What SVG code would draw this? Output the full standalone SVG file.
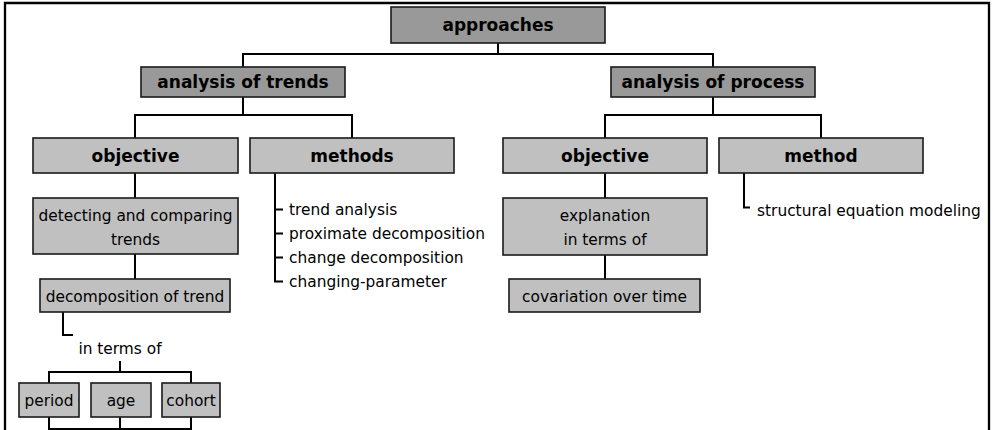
<svg xmlns="http://www.w3.org/2000/svg" width="993" height="430" viewBox="0 0 993 430">
<style>
  .dark { fill: #999999; stroke: #1a1a1a; stroke-width: 1.6; }
  .light { fill: #c0c0c0; stroke: #1a1a1a; stroke-width: 1.6; }
  .title { font-family: "DejaVu Sans", "Liberation Sans", sans-serif; font-size: 17px; font-weight: bold; fill: #000; text-anchor: middle; }
  .txt { font-family: "DejaVu Sans", "Liberation Sans", sans-serif; font-size: 15.4px; fill: #000; text-anchor: middle; }
  .lst { font-family: "DejaVu Sans", "Liberation Sans", sans-serif; font-size: 15.4px; fill: #000; text-anchor: start; }
  .conn { fill: none; stroke: #000; stroke-width: 2; }
</style>
<rect x="0" y="0" width="993" height="430" fill="#ffffff"/>
<path d="M5,434 V3 H989 V434" fill="none" stroke="#000" stroke-width="2.3"/>

<g id="connectors" class="conn">
  <path d="M498,43 V54"/>
  <path d="M243,67 V54 H713 V67"/>
  <path d="M243,97 V115"/>
  <path d="M135,138 V115 H352 V138"/>
  <path d="M713,97 V115"/>
  <path d="M605,138 V115 H821 V138"/>
  <path d="M135,173 V198"/>
  <path d="M135,254 V279"/>
  <path d="M63,312 V335 H73"/>
  <path d="M120,361 V372"/>
  <path d="M49,383 V372 H191 V383"/>
  <path d="M49,417 V429 H191 V417"/>
  <path d="M120,417 V429"/>
  <path d="M275,173 V281.5 H283"/>
  <path d="M275,209.5 H283"/>
  <path d="M275,233.5 H283"/>
  <path d="M275,257.5 H283"/>
  <path d="M605,173 V198"/>
  <path d="M605,255 V279"/>
  <path d="M744,173 V207.5 H750"/>
</g>

<g id="approaches">
  <rect class="dark" x="391" y="7" width="214" height="36"/>
  <text class="title" x="498" y="31">approaches</text>
</g>
<g id="analysis-trends">
  <rect class="dark" x="141" y="67" width="204" height="30"/>
  <text class="title" x="243" y="88">analysis of trends</text>
</g>
<g id="analysis-process">
  <rect class="dark" x="611" y="67" width="204" height="30"/>
  <text class="title" x="713" y="88">analysis of process</text>
</g>
<g id="objective-trends">
  <rect class="light" x="33" y="138" width="205" height="35"/>
  <text class="title" x="135.5" y="161.5">objective</text>
</g>
<g id="methods-trends">
  <rect class="light" x="250" y="138" width="204" height="35"/>
  <text class="title" x="352" y="161.5">methods</text>
</g>
<g id="objective-process">
  <rect class="light" x="503" y="138" width="204" height="35"/>
  <text class="title" x="605" y="161.5">objective</text>
</g>
<g id="method-process">
  <rect class="light" x="719" y="138" width="204" height="35"/>
  <text class="title" x="821" y="161.5">method</text>
</g>
<g id="detecting">
  <rect class="light" x="33" y="198" width="205" height="56"/>
  <text class="txt" x="135.5" y="221">detecting and comparing</text>
  <text class="txt" x="135.5" y="245">trends</text>
</g>
<g id="decomposition">
  <rect class="light" x="40" y="279" width="190" height="33"/>
  <text class="txt" x="135" y="302">decomposition of trend</text>
</g>
<g id="in-terms-of">
  <text class="txt" x="120" y="354">in terms of</text>
</g>
<g id="period">
  <rect class="light" x="19" y="383" width="60" height="34"/>
  <text class="txt" x="49" y="405.5">period</text>
</g>
<g id="age">
  <rect class="light" x="91" y="383" width="60" height="34"/>
  <text class="txt" x="121" y="405.5">age</text>
</g>
<g id="cohort">
  <rect class="light" x="162" y="383" width="58" height="34"/>
  <text class="txt" x="191" y="405.5">cohort</text>
</g>
<g id="methods-list">
  <text class="lst" x="289" y="215">trend analysis</text>
  <text class="lst" x="289" y="239">proximate decomposition</text>
  <text class="lst" x="289" y="263">change decomposition</text>
  <text class="lst" x="289" y="287">changing-parameter</text>
</g>
<g id="explanation">
  <rect class="light" x="503" y="198" width="204" height="57"/>
  <text class="txt" x="605" y="221">explanation</text>
  <text class="txt" x="605" y="245">in terms of</text>
</g>
<g id="covariation">
  <rect class="light" x="509" y="279" width="191" height="33"/>
  <text class="txt" x="604.5" y="302">covariation over time</text>
</g>
<g id="sem">
  <text class="lst" x="757" y="215.5">structural equation modeling</text>
</g>
</svg>
